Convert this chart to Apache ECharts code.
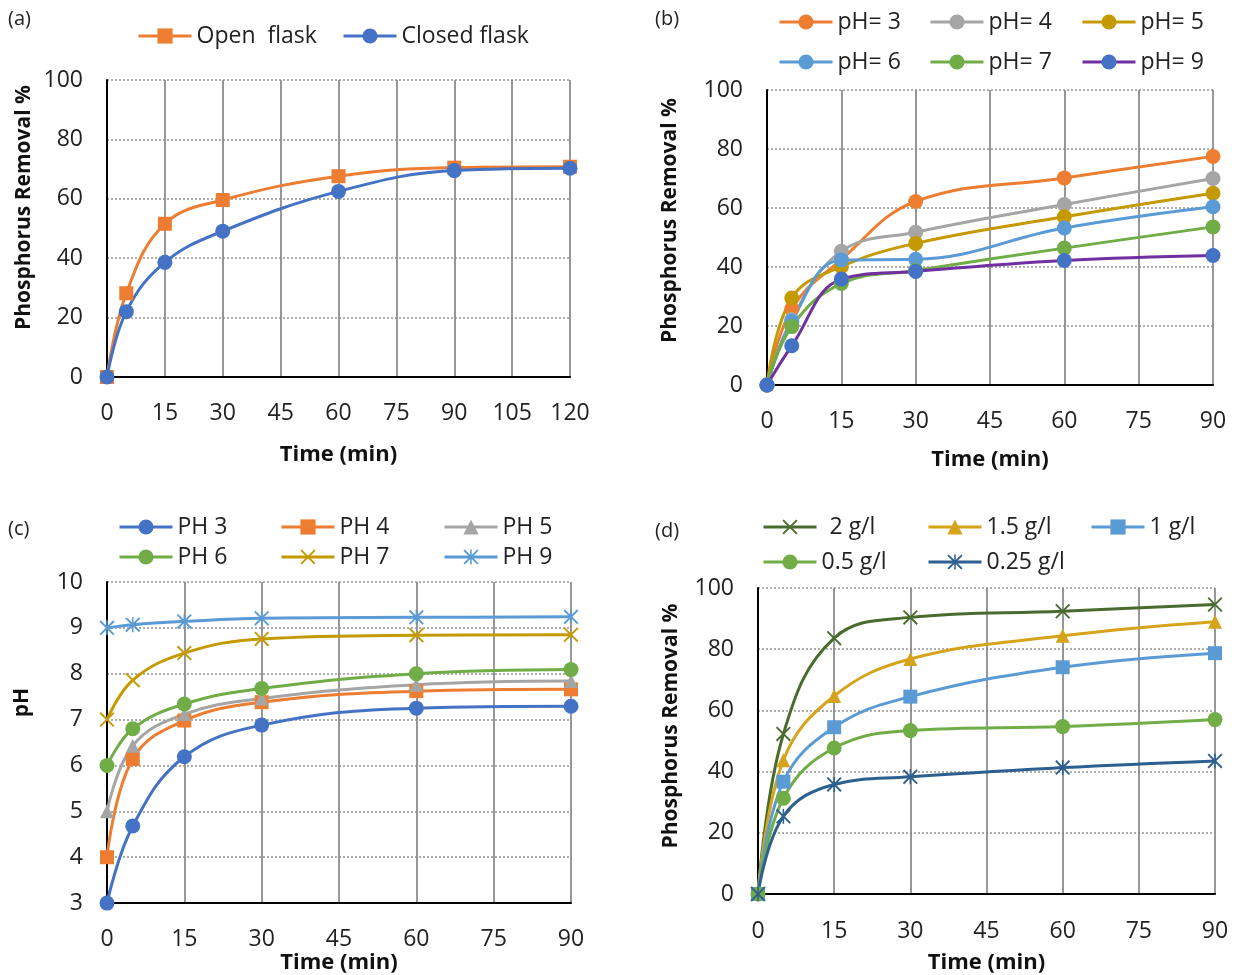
<!DOCTYPE html>
<html><head><meta charset="utf-8">
<script src="https://cdn.jsdelivr.net/npm/echarts@6/dist/echarts.min.js"></script>
<style>html,body{margin:0;padding:0;background:#fff}#c{width:1234px;height:975px}</style>
</head><body><div id="c"></div>
<script>
// ---------- DATA ----------
const timeA = [0, 5, 15, 30, 60, 90, 120];
const openFlask = [0, 28.2, 51.6, 59.6, 67.6, 70.5, 70.8];
const closedFlask = [0, 22, 38.6, 49.1, 62.5, 69.5, 70.3];

const timeB = [0, 5, 15, 30, 60, 90];
const pH3 = [0, 25.8, 42.5, 62.2, 70.2, 77.5];
const pH4 = [0, 22.2, 45.3, 51.8, 61.2, 70];
const pH5 = [0, 29.5, 40.1, 48, 57, 65];
const pH6 = [0, 21.6, 42.4, 42.6, 53.2, 60.4];
const pH7 = [0, 19.8, 34.4, 38.8, 46.4, 53.6];
const pH9 = [0, 13.3, 35.9, 38.5, 42.2, 43.9];

const timeC = [0, 5, 15, 30, 60, 90];
const PH3c = [3, 4.68, 6.19, 6.88, 7.25, 7.29];
const PH4c = [4, 6.14, 6.98, 7.38, 7.62, 7.66];
const PH5c = [5, 6.43, 7.12, 7.46, 7.76, 7.84];
const PH6c = [6, 6.8, 7.34, 7.68, 8.0, 8.09];
const PH7c = [7, 7.86, 8.45, 8.76, 8.84, 8.85];
const PH9c = [9, 9.07, 9.14, 9.21, 9.23, 9.24];

const timeD = [0, 5, 15, 30, 60, 90];
const dose2 = [0, 52.3, 83.6, 90.4, 92.4, 94.6];
const dose15 = [0, 43.7, 64.7, 76.8, 84.4, 89];
const dose1 = [0, 36.7, 54.5, 64.5, 74.1, 78.7];
const dose05 = [0, 31.3, 47.7, 53.4, 54.7, 57];
const dose025 = [0, 25.4, 35.8, 38.3, 41.3, 43.5];

const xTicksA = [0, 120, 15];
const xTicksBCD = [0, 90, 15];
// ---------- STYLE ----------
const FONT = 'Open Sans';
const TXT = '#222';
const X_PATH = 'path://M0,9L9,0L100,91L91,100Z M91,0L100,9L9,100L0,91Z';
const STAR_PATH = 'path://M0,9L9,0L100,91L91,100Z M91,0L100,9L9,100L0,91Z M45,0L55,0L55,100L45,100Z';

const grids = [
  {left: 107, top: 80, width: 463, height: 297},
  {left: 767, top: 90, width: 446, height: 295},
  {left: 107, top: 582, width: 464, height: 326},
  {left: 758, top: 588, width: 457, height: 307}
];

function xAxis(gi, ticks, nameGap, margin) {
  return {
    type: 'value', gridIndex: gi, min: ticks[0], max: ticks[1], interval: ticks[2],
    name: 'Time (min)', nameLocation: 'middle', nameGap: nameGap,
    nameTextStyle: {fontFamily: FONT, fontSize: 22, fontWeight: 'bold', color: '#111'},
    axisLine: {show: true, lineStyle: {color: '#000', width: 2}},
    axisTick: {show: false},
    axisLabel: {fontFamily: FONT, fontSize: 23, color: TXT, margin: margin},
    splitLine: {show: true, lineStyle: {color: '#858585', width: 1.7, type: 'solid'}}
  };
}
function yAxis(gi, min, max, interval, name, nameGap, shift) {
  return {
    type: 'value', gridIndex: gi, min: min, max: max, interval: interval,
    name: name, nameLocation: 'middle', nameGap: nameGap,
    nameTextStyle: {fontFamily: FONT, fontSize: 21, fontWeight: 'bold', color: '#111', padding: [0, 0, 0, shift]},
    axisLine: {show: true, lineStyle: {color: '#000', width: 2}},
    axisTick: {show: false},
    axisLabel: {fontFamily: FONT, fontSize: 23, color: TXT, margin: 24},
    splitLine: {show: true, lineStyle: {color: '#9a9a9a', width: 1.6, type: [2, 2]}}
  };
}

function pairs(xs, ys) { return xs.map((x, i) => [x, ys[i]]); }
function line(name, gi, xs, ys, color, symbol, size, lineColor) {
  return {
    name: name, type: 'line', xAxisIndex: gi, yAxisIndex: gi,
    data: pairs(xs, ys), smooth: 0.4,
    symbol: symbol, symbolSize: size,
    itemStyle: {color: color, borderWidth: 0},
    lineStyle: {color: lineColor || color, width: 3},
    emphasis: {disabled: true}
  };
}

const series = [
  line('Open  flask', 0, timeA, openFlask, '#ED7D31', 'rect', 14),
  line('Closed flask', 0, timeA, closedFlask, '#4472C4', 'circle', 15),

  line('pH= 3', 1, timeB, pH3, '#ED7D31', 'circle', 15),
  line('pH= 4', 1, timeB, pH4, '#A5A5A5', 'circle', 15),
  line('pH= 5', 1, timeB, pH5, '#C49A00', 'circle', 15),
  line('pH= 6', 1, timeB, pH6, '#5B9BD5', 'circle', 15),
  line('pH= 7', 1, timeB, pH7, '#70AD47', 'circle', 15),
  line('pH= 9', 1, timeB, pH9, '#4472C4', 'circle', 15, '#7030A0'),

  line('PH 3', 2, timeC, PH3c, '#4472C4', 'circle', 15),
  line('PH 4', 2, timeC, PH4c, '#ED7D31', 'rect', 14),
  line('PH 5', 2, timeC, PH5c, '#A5A5A5', 'triangle', 14),
  line('PH 6', 2, timeC, PH6c, '#70AD47', 'circle', 15),
  line('PH 7', 2, timeC, PH7c, '#C49A00', X_PATH, 15),
  line('PH 9', 2, timeC, PH9c, '#5B9BD5', STAR_PATH, 15),

  line('2 g/l', 3, timeD, dose2, '#4A6B2E', X_PATH, 15),
  line('1.5 g/l', 3, timeD, dose15, '#D6A41A', 'triangle', 14),
  line('1 g/l', 3, timeD, dose1, '#5B9BD5', 'rect', 14),
  line('0.5 g/l', 3, timeD, dose05, '#70AD47', 'circle', 15),
  line('0.25 g/l', 3, timeD, dose025, '#2D5F8F', STAR_PATH, 15)
];

// legend items: [name, left, centerY]
const legendLayout = [
  ['Open  flask', 137, 36], ['Closed flask', 342, 36],
  ['pH= 3', 778, 22], ['pH= 4', 929, 22], ['pH= 5', 1081, 22],
  ['pH= 6', 778, 62], ['pH= 7', 929, 62], ['pH= 9', 1081, 62],
  ['PH 3', 118, 527], ['PH 4', 280, 527], ['PH 5', 443, 527],
  ['PH 6', 118, 557], ['PH 7', 280, 557], ['PH 9', 443, 557],
  ['2 g/l', 762, 527], ['1.5 g/l', 927, 527], ['1 g/l', 1090, 527],
  ['0.5 g/l', 762, 562], ['0.25 g/l', 927, 562]
];
const legends = legendLayout.map(([n, l, cy]) => ({
  data: [n], left: l, top: cy - 12, padding: 0, itemWidth: 53, itemHeight: 19,
  selectedMode: false,
  lineStyle: {width: 3},
  textStyle: {fontFamily: FONT, fontSize: 23, color: TXT, lineHeight: 24,
    padding: n === '2 g/l' ? [0, 0, 0, 8] : 0}
}));

const panelLabels = [['(a)', 8, 9], ['(b)', 655, 9], ['(c)', 8, 519], ['(d)', 655, 521]];

const option = {
  animation: false,
  backgroundColor: '#fff',
  grid: grids,
  xAxis: [xAxis(0, xTicksA, 67, 25), xAxis(1, xTicksBCD, 64, 25), xAxis(2, xTicksBCD, 47, 25), xAxis(3, xTicksBCD, 58, 26)],
  yAxis: [
    yAxis(0, 0, 100, 20, 'Phosphorus Removal %', 72, 42),
    yAxis(1, 0, 100, 20, 'Phosphorus Removal %', 86, 34),
    yAxis(2, 3, 10, 1, 'pH', 74, 80),
    yAxis(3, 0, 100, 20, 'Phosphorus Removal %', 76, 30)
  ],
  legend: legends,
  graphic: panelLabels.map(([t, l, tp]) => ({
    type: 'text', left: l, top: tp,
    style: {text: t, font: '20px "' + FONT + '"', fill: '#222'}
  })),
  series: series
};
const chart = echarts.init(document.getElementById('c'), null, {renderer: 'canvas'});
chart.setOption(option);
</script></body></html>
